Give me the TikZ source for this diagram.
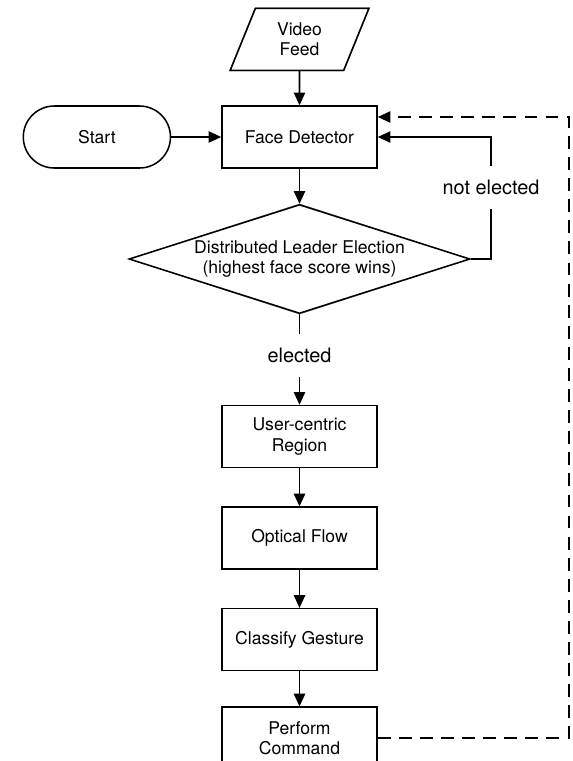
\documentclass[tikz,border=0pt]{standalone}
\usepackage{fontspec}
\setmainfont{TeX Gyre Heros}
\usetikzlibrary{positioning,shapes.geometric,shapes.misc,arrows.meta,backgrounds,calc}

\begin{document}
\begin{tikzpicture}[
    every node/.style={font=\fontsize{15}{17.5}\selectfont, align=center},
    box/.style={draw, fill=white, line width=1.3pt, minimum width=4.65cm, minimum height=1.86cm},
    lbl/.style={font=\fontsize{17}{20}\selectfont, minimum height=1.23cm, inner sep=0pt},
    flow/.style={-{Triangle[length=3.8mm, width=3.4mm]}},
    line width=1.3pt
  ]
    \path[use as bounding box] (0,0) rectangle (17.16,-22.83);

    \node[box] (fd) at (8.985,-4.11) {Face Detector};
    \node[box, trapezium, trapezium left angle=70, trapezium right angle=110, trapezium stretches=true,
      minimum width=4.17cm, above=1.02cm of fd] (vf) {Video\\Feed};
    \node[box, rounded rectangle, left=1.5cm of fd] (st) {Start};
    \node[box, diamond, aspect=3.13, inner sep=1pt, minimum width=10.23cm, minimum height=3.27cm,
      below=1.05cm of fd] (dec) {Distributed Leader Election\\(highest face score wins)};

    \node[lbl, below=0.6cm of dec] (el) {elected};
    \node[box, below=0.84cm of el] (ucr) {User-centric\\Region};
    \node[box, below=1.14cm of ucr] (of) {Optical Flow};
    \node[box, below=1.14cm of of] (cg) {Classify Gesture};
    \node[box, below=1.05cm of cg] (pc) {Perform\\Command};

    \node[lbl] (nel) at (14.73,-5.62) {not elected};

    % soft shadows
    \begin{scope}[on background layer]
      \foreach \dx/\dy/\g in {0.09/0.22/10, 0.07/0.16/20, 0.05/0.11/32, 0.03/0.06/48} {
        \begin{scope}[shift={(\dx,-\dy)}]
          \foreach \n in {fd,ucr,of,cg,pc}
            \fill[black!\g] (\n.south west) rectangle (\n.north east);
          \fill[black!\g, rounded corners=0.9cm] (st.south west) rectangle (st.north east);
          \fill[black!\g] (dec.north) -- (dec.east) -- (dec.south) -- (dec.west) -- cycle;
          \fill[black!\g] (vf.bottom left corner) -- (vf.bottom right corner)
            -- (vf.top right corner) -- (vf.top left corner) -- cycle;
        \end{scope}
      }
    \end{scope}

    \draw[flow] (vf) -- (fd);
    \draw[flow] (st) -- (fd);
    \draw[flow] (fd) -- (dec);
    \draw (dec) -- (el);
    \draw[flow] (el) -- (ucr);
    \draw[flow] (ucr) -- (of);
    \draw[flow] (of) -- (cg);
    \draw[flow] (cg) -- (pc);

    \draw (dec.east) -| (nel);
    \draw[flow] (nel) |- (fd.east);

    \coordinate (back) at ($(fd.east)+(0,0.6)$);
    \draw[flow, dash pattern=on 11pt off 7pt] (pc.east) -- ++(5.73,0) |- (back);
\end{tikzpicture}
\end{document}
